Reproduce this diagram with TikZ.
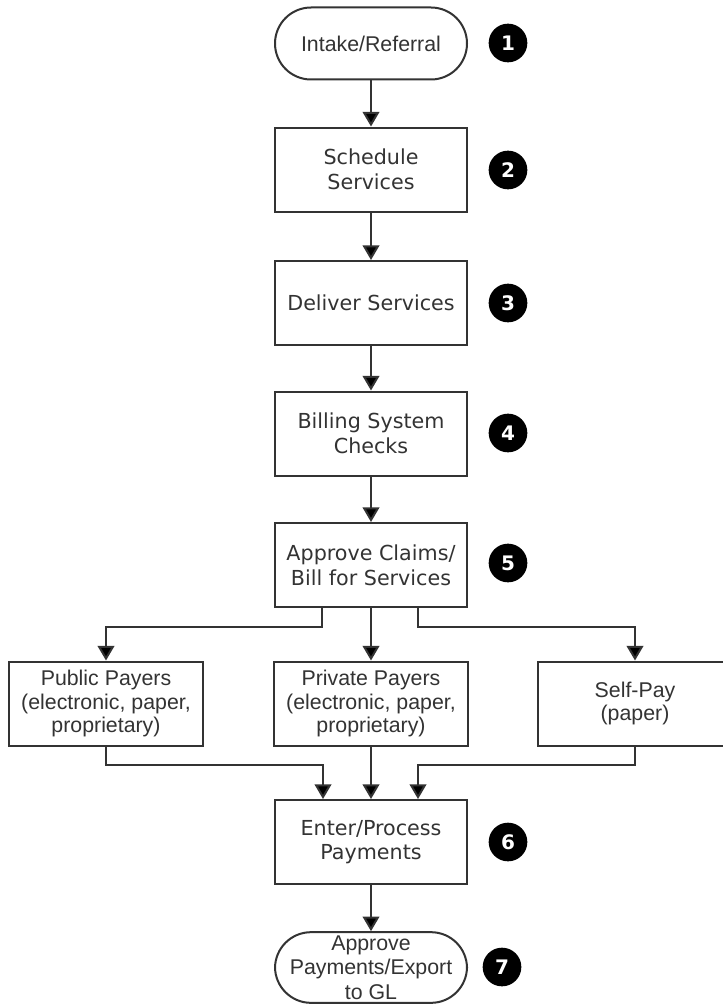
\documentclass[tikz,border=0pt]{standalone}
\usepackage{fontspec}
\usepackage{tikz}
\usetikzlibrary{arrows.meta}
\newfontfamily\verdfont{DejaVu Sans}
\newfontfamily\arialfont{Liberation Sans}
\definecolor{ink}{HTML}{333333}
\definecolor{rule}{HTML}{333333}
\tikzset{
    sbox/.style={rectangle,draw=rule,line width=1.5pt,fill=white,text=ink,
        minimum width=144pt,minimum height=63pt,align=center,
        font=\verdfont\fontsize{15.5}{18.5}\selectfont},
    pbox/.style={sbox,minimum width=146pt,font=\arialfont\fontsize{16}{17.5}\selectfont},
    tbox/.style={sbox,rounded corners=27pt,minimum height=54pt,inner sep=0pt,
        font=\arialfont\fontsize{16}{18.5}\selectfont},
    nbadge/.style={circle,fill=black,text=white,minimum size=29pt,inner sep=0pt,
        font=\verdfont\bfseries\fontsize{15}{15}\selectfont},
    link/.style={draw=rule,line width=1.5pt,-{Triangle[width=12.5pt,length=11pt,fill=black]}},
    flow/.style={
        every edge/.style=link,
    },
}

\begin{document}
\begin{tikzpicture}[x=0.75pt,y=-0.75pt,flow]
\useasboundingbox[fill=white] (0,0) rectangle (722,1006);
% main column
\node[tbox] (intake)  at (371,43.5)  {Intake/Referral};
\node[sbox] (sched)   at (371,169.5) {Schedule\\Services};
\node[sbox] (deliver) at (371,303)   {Deliver Services};
\node[sbox] (billing) at (371,433.5) {Billing System\\Checks};
\node[sbox] (approve) at (371,565)   {Approve Claims/\\Bill for Services};
\node[pbox] (public)  at (106,703.5) {Public Payers\\(electronic, paper,\\proprietary)};
\node[pbox] (private) at (371,703.5) {Private Payers\\(electronic, paper,\\proprietary)};
\node[pbox] (self)    at (635,703.5) {Self-Pay\\(paper)};
\node[sbox] (enter)   at (371,842)   {Enter/Process\\Payments};
\node[tbox,minimum height=53pt] (export) at (371,967.5) {Approve\\Payments/Export\\to GL};
% step numbers
\node[nbadge] (n1) at (508,43)  {1};
\node[nbadge] (n2) at (508,170) {2};
\node[nbadge] (n3) at (508,303) {3};
\node[nbadge] (n4) at (508,433) {4};
\node[nbadge] (n5) at (508,563) {5};
\node[nbadge] (n6) at (508,842) {6};
\node[nbadge] (n7) at (502,967) {7};
\path
    (intake)  edge (sched)
    (sched)   edge (deliver)
    (deliver) edge (billing)
    (billing) edge (approve)
    (approve) edge (private)
    (private) edge (enter)
    (enter)   edge (export)
;
% split to payers and merge back
\draw[link] ([xshift=-36.75pt]approve.south) -- ++(0,19) -| (public);
\draw[link] ([xshift=35.25pt]approve.south) -- ++(0,19) -| (self);
\draw[link] (public.south) -- ++(0,18) -| ([xshift=-36pt]enter.north);
\draw[link] (self.south) -- ++(0,18) -| ([xshift=35.25pt]enter.north);
\end{tikzpicture}
\end{document}
